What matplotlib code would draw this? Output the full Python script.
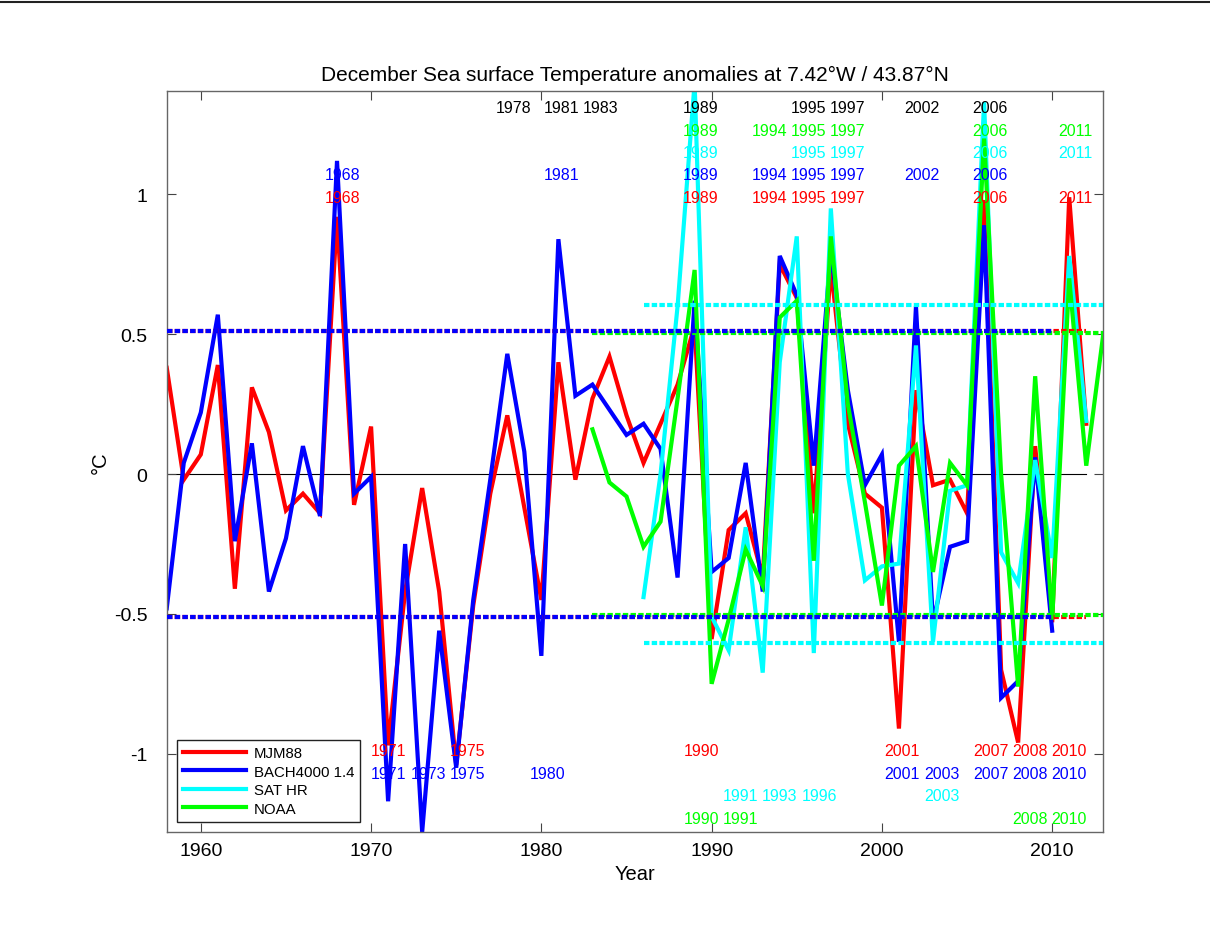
import numpy as np
import matplotlib
matplotlib.use('Agg')
import matplotlib.pyplot as plt
from matplotlib.lines import Line2D

plt.rcParams['font.family'] = ['Liberation Sans', 'DejaVu Sans']
plt.rcParams['axes.unicode_minus'] = False

# Series (December SST anomalies, degC)
mjm_years = np.arange(1958, 2013)
mjm88 = [0.38, -0.02, 0.07, 0.39, -0.41, 0.31, 0.15, -0.13, -0.07, -0.14,
         0.92, -0.11, 0.17, -0.97, -0.42, -0.05, -0.42, -1.04, -0.47, -0.07,
         0.21, -0.12, -0.45, 0.40, -0.02, 0.27, 0.42, 0.21, 0.04, 0.18,
         0.32, 0.53, -0.59, -0.20, -0.14, -0.37, 0.75, 0.63, -0.14, 0.74,
         0.18, -0.07, -0.12, -0.91, 0.30, -0.04, -0.02, -0.14, 0.98, -0.70,
         -0.96, 0.10, -0.53, 0.99, 0.18]

bach_years = np.arange(1958, 2011)
bach = [-0.48, 0.04, 0.22, 0.57, -0.24, 0.11, -0.42, -0.23, 0.10, -0.15,
        1.12, -0.07, -0.01, -1.17, -0.25, -1.28, -0.56, -1.05, -0.45, -0.02,
        0.43, 0.08, -0.65, 0.84, 0.28, 0.32, 0.23, 0.14, 0.18, 0.09,
        -0.37, 0.62, -0.35, -0.30, 0.04, -0.42, 0.78, 0.64, 0.03, 0.80,
        0.30, -0.04, 0.07, -0.60, 0.60, -0.53, -0.26, -0.24, 0.89, -0.80,
        -0.74, 0.06, -0.56]

sat_years = np.arange(1986, 2014)
sat_hr = [-0.44, 0.00, 0.60, 1.40, -0.51, -0.63, -0.19, -0.71, 0.40, 0.85,
          -0.64, 0.95, 0.00, -0.38, -0.33, -0.32, 0.46, -0.60, -0.06, -0.04,
          1.33, -0.28, -0.39, 0.05, -0.30, 0.78, 0.19, np.nan]

noaa_years = np.arange(1983, 2014)
noaa = [0.16, -0.03, -0.08, -0.26, -0.17, 0.27, 0.73,
        -0.75, -0.52, -0.27, -0.40, 0.56, 0.62, -0.31, 0.85, 0.25, -0.10,
        -0.47, 0.03, 0.10, -0.35, 0.04, -0.04, 1.20, 0.00, -0.76, 0.35,
        -0.52, 0.70, 0.03, 0.50]

# thresholds (+/-)
thr_mjm = 0.51
thr_bach = 0.51
thr_sat = 0.605
thr_noaa = 0.505

# year labels: rows above and below
lab_black_hi = [1978, 1981, 1983, 1989, 1995, 1997, 2002, 2006]
lab_green_hi = [1989, 1994, 1995, 1997, 2006, 2011]
lab_cyan_hi = [1989, 1995, 1997, 2006, 2011]
lab_blue_hi = [1968, 1981, 1989, 1994, 1995, 1997, 2002, 2006]
lab_red_hi = [1968, 1989, 1994, 1995, 1997, 2006, 2011]
lab_red_lo = [1971, 1975, 1990, 2001, 2007, 2008, 2010]
lab_blue_lo = [1971, 1973, 1975, 1980, 2001, 2003, 2007, 2008, 2010]
lab_cyan_lo = [1991, 1993, 1996, 2003]
lab_green_lo = [1990, 1991, 2008, 2010]

RED, BLUE, CYAN, GREEN = '#ff0000', '#0000ff', '#00ffff', '#00ff00'


def spread(yrs, off=0.35, gap=2.3, n=200):
    # push overlapping labels apart
    keys = sorted(set(yrs))
    xs = {k: k + off for k in keys}
    for _ in range(n):
        for a, b in zip(keys[:-1], keys[1:]):
            d = xs[b] - xs[a]
            if d < gap:
                s = (gap - d) / 2
                xs[a] -= s
                xs[b] += s
    return xs


fig = plt.figure(figsize=(12.1, 9.29), dpi=100)
ax = fig.add_axes([0.1378, 0.1033, 0.774, 0.7977])

ax.plot([1958, 2012], [0, 0], color='k', lw=0.8, zorder=1)

series = [(mjm_years, mjm88, RED, 'MJM88'),
          (bach_years, bach, BLUE, 'BACH4000 1.4'),
          (sat_years, sat_hr, CYAN, 'SAT HR'),
          (noaa_years, noaa, GREEN, 'NOAA')]
for yrs, vals, col, name in series:
    ax.plot(yrs, vals, color=col, lw=3, label=name,
            solid_joinstyle='miter', zorder=2)

dots = (0, (1.3, 0.55))
for yrs, thr, col in [(mjm_years, thr_mjm, RED), (noaa_years, thr_noaa, GREEN),
                      (bach_years, thr_bach, BLUE), (sat_years, thr_sat, CYAN)]:
    for s in (1, -1):
        ax.plot([yrs[0], yrs[-1]], [s * thr, s * thr], color=col, lw=3,
                linestyle=dots, zorder=3)

top_pos = spread(lab_black_hi + lab_green_hi + lab_cyan_hi + lab_blue_hi + lab_red_hi)
bot_pos = spread(lab_red_lo + lab_blue_lo + lab_cyan_lo + lab_green_lo)
rows = [(lab_black_hi, 1.31, 'k', top_pos), (lab_green_hi, 1.23, GREEN, top_pos),
        (lab_cyan_hi, 1.15, CYAN, top_pos), (lab_blue_hi, 1.07, BLUE, top_pos),
        (lab_red_hi, 0.99, RED, top_pos),
        (lab_red_lo, -0.99, RED, bot_pos), (lab_blue_lo, -1.07, BLUE, bot_pos),
        (lab_cyan_lo, -1.15, CYAN, bot_pos), (lab_green_lo, -1.23, GREEN, bot_pos)]
for yrs, yv, col, pos in rows:
    for yr in yrs:
        ax.text(pos[yr], yv, str(yr), color=col, fontsize=11.5,
                ha='center', va='center', zorder=4)

ax.set_xlim(1958, 2013)
ax.set_ylim(-1.28, 1.37)
ax.set_xticks([1960, 1970, 1980, 1990, 2000, 2010])
ax.set_yticks([-1, -0.5, 0, 0.5, 1])
ax.set_yticklabels(['-1', '-0.5', '0', '0.5', '1'])
ax.tick_params(direction='in', length=6.5, width=0.8, top=True, right=True,
               labelsize=14, color='#444444')
ax.tick_params(axis='x', pad=7)
ax.tick_params(axis='y', pad=14)
for sp in ax.spines.values():
    sp.set_color('#666666')
    sp.set_linewidth(1.0)

ax.set_title('December Sea surface Temperature anomalies at 7.42°W / 43.87°N',
             fontsize=15, pad=8)
ax.set_xlabel('Year', fontsize=14.5, labelpad=4)
ax.set_ylabel('°C', fontsize=14.5, labelpad=3)

leg = ax.legend(loc='lower left', fontsize=10.8, handlelength=4.2,
                handletextpad=0.5, labelspacing=0.3, borderpad=0.4,
                borderaxespad=0.7, fancybox=False, framealpha=1)
leg.get_frame().set_edgecolor('#222222')
leg.get_frame().set_linewidth(1.0)

fig.add_artist(Line2D([0, 1], [0.997, 0.997], transform=fig.transFigure,
                      color='#222222', lw=1.5))

fig.savefig('out.png', dpi=100)
